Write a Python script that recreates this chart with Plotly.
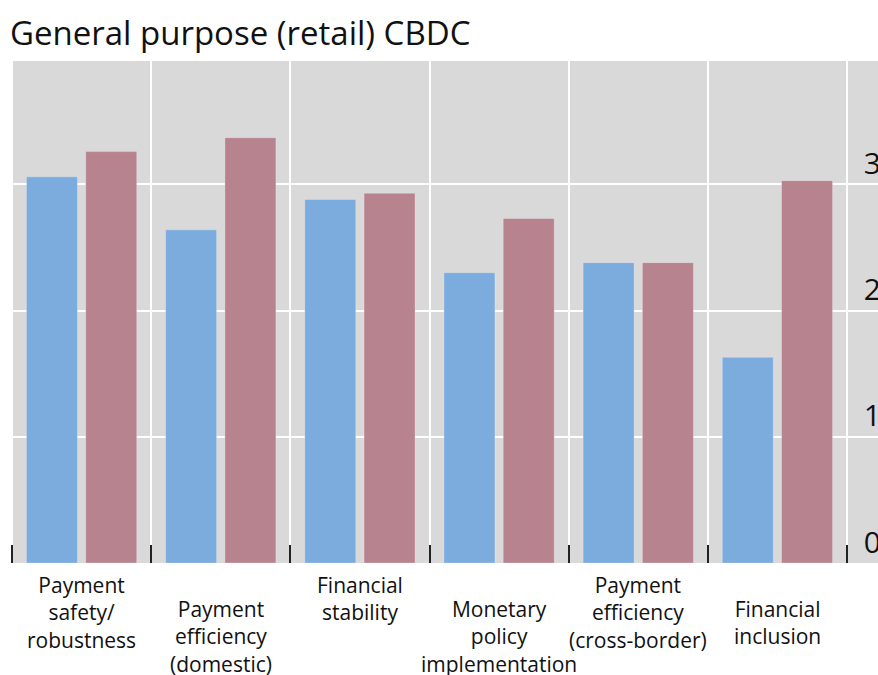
import plotly.graph_objects as go

categories = [
    "Payment<br>safety/<br>robustness",
    "Payment<br>efficiency<br>(domestic)",
    "Financial<br>stability",
    "Monetary<br>policy<br>implementation",
    "Payment<br>efficiency<br>(cross-border)",
    "Financial<br>inclusion",
]
cat_keys = ["c1", "c2", "c3", "c4", "c5", "c6"]
advanced = [3.06, 2.64, 2.88, 2.30, 2.38, 1.63]
emerging = [3.26, 3.37, 2.93, 2.73, 2.38, 3.03]
y_ticks = [0, 1, 2, 3]

FONT = "Open Sans"
W, H = 878, 675
top_px, bot_px = 60.7, 563.0
plot_h = bot_px - top_px
left_px, right_grid_px = 12.0, 847.0

fig = go.Figure()
fig.add_trace(go.Bar(x=cat_keys, y=advanced, name="Advanced economies",
                     marker=dict(color="#7BACDD", line=dict(width=1, color="rgba(255,255,255,0.25)"))))
fig.add_trace(go.Bar(x=cat_keys, y=emerging, name="Emerging market economies",
                     marker=dict(color="#B6838F", line=dict(width=1, color="rgba(255,255,255,0.25)"))))

annotations = []
for i, (k, lab) in enumerate(zip(cat_keys, categories)):
    p = 569 if i % 2 == 0 else 593
    annotations.append(dict(
        x=k, xref="x", y=(bot_px - p) / plot_h, yref="paper",
        text=lab, showarrow=False, xanchor="center", yanchor="top",
        align="center", font=dict(family=FONT, size=21, color="#111111"),
    ))

cat_w = (right_grid_px - left_px) / 6.0
x_start = -0.5 - 4 / cat_w
x_end = 5.5 + (W - right_grid_px) / cat_w

fig.update_layout(
    width=W, height=H,
    margin=dict(l=left_px - 4, r=0, t=top_px, b=H - bot_px, pad=0, autoexpand=False),
    paper_bgcolor="white", plot_bgcolor="#D9D9D9",
    barmode="group", bargap=0.148, bargroupgap=0.14,
    showlegend=False,
    title=dict(text="General purpose (retail) CBDC", x=10 / W, xref="container", xanchor="left",
               y=1 - 33 / H, yref="container", yanchor="middle",
               font=dict(family=FONT, size=33, color="#111111")),
    annotations=annotations,
    font=dict(family=FONT),
    shapes=[dict(type="rect", xref="paper", yref="paper", x0=0, x1=4 / (W - left_px + 4),
                 y0=-0.01, y1=1.01, fillcolor="white", line=dict(width=0), layer="below")],
)
fig.update_xaxes(
    type="category", range=[x_start, x_end], tickson="boundaries",
    showgrid=True, gridcolor="white", gridwidth=2,
    ticks="inside", ticklen=18, tickwidth=2, tickcolor="#222222",
    showticklabels=False, showline=False, zeroline=False, automargin=False,
)
fig.update_yaxes(
    range=[0, 3.978], side="right", tickvals=y_ticks,
    ticklabelposition="inside top", ticklabelstandoff=-6,
    showgrid=True, gridcolor="white", gridwidth=2, zeroline=False,
    tickfont=dict(family=FONT, size=30, color="#111111"),
    showline=False, automargin=False,
)
fig.write_html("out.html", config={"displayModeBar": False},
               post_script="document.body.style.margin='0';document.body.style.overflow='hidden';")
